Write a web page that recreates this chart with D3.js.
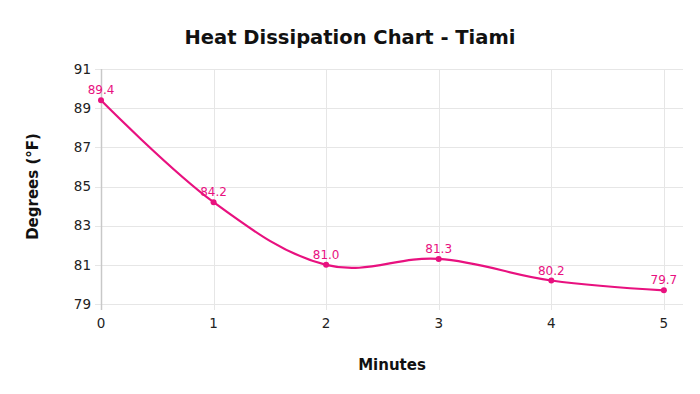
<!DOCTYPE html>
<html>
<head>
<meta charset="utf-8">
<script src="https://cdn.jsdelivr.net/npm/d3@7"></script>
<style>
  body { margin: 0; background: #fff; }
  text { font-family: "DejaVu Sans", Verdana, sans-serif; }
</style>
</head>
<body>
<svg id="chart" width="700" height="394"></svg>
<script>
var minutes = [0, 1, 2, 3, 4, 5];
var degrees = [89.4, 84.2, 81.0, 81.3, 80.2, 79.7];
var yTicks = [79, 81, 83, 85, 87, 89, 91];

var svg = d3.select("#chart");
var plotLeft = 101, plotRight = 683, plotTop = 69, plotBottom = 304;
var pink = "#e8117f";

var x = d3.scaleLinear().domain([0, 5.17]).range([plotLeft, plotRight]);
var y = d3.scaleLinear().domain([79, 91]).range([plotBottom, plotTop]);

// grid
svg.selectAll(".hgrid").data(yTicks).enter().append("line")
    .attr("x1", plotLeft - 6).attr("x2", plotRight)
    .attr("y1", function (d) { return Math.round(y(d)) + 0.5; })
    .attr("y2", function (d) { return Math.round(y(d)) + 0.5; })
    .attr("stroke", "#e6e6e6").attr("stroke-width", 1);

svg.selectAll(".vgrid").data(minutes.slice(1)).enter().append("line")
    .attr("x1", function (d) { return Math.round(x(d)) + 0.5; })
    .attr("x2", function (d) { return Math.round(x(d)) + 0.5; })
    .attr("y1", plotTop).attr("y2", plotBottom + 6)
    .attr("stroke", "#e6e6e6").attr("stroke-width", 1);

// y axis line
svg.append("line")
    .attr("x1", plotLeft + 0.5).attr("x2", plotLeft + 0.5)
    .attr("y1", plotTop).attr("y2", plotBottom + 6)
    .attr("stroke", "#c8c8c8").attr("stroke-width", 1.5);

// tick labels
svg.selectAll(".ylab").data(yTicks).enter().append("text")
    .attr("x", plotLeft - 10).attr("y", function (d) { return y(d); })
    .attr("dy", "0.35em").attr("text-anchor", "end")
    .attr("font-size", 13.5).attr("fill", "#222")
    .text(function (d) { return d; });

svg.selectAll(".xlab").data(minutes).enter().append("text")
    .attr("x", function (d) { return x(d); }).attr("y", plotBottom + 24)
    .attr("text-anchor", "middle")
    .attr("font-size", 13.5).attr("fill", "#222")
    .text(function (d) { return d; });

// line
var line = d3.line()
    .x(function (d, i) { return x(minutes[i]); })
    .y(function (d) { return y(d); })
    .curve(d3.curveCardinal.tension(-0.1));

svg.append("path").datum(degrees)
    .attr("d", line).attr("fill", "none")
    .attr("stroke", pink).attr("stroke-width", 2.2);

svg.selectAll(".pt").data(degrees).enter().append("circle")
    .attr("cx", function (d, i) { return x(minutes[i]); })
    .attr("cy", function (d) { return y(d); })
    .attr("r", 3).attr("fill", pink);

svg.selectAll(".vlab").data(degrees).enter().append("text")
    .attr("x", function (d, i) { return x(minutes[i]); })
    .attr("y", function (d) { return y(d) - 6; })
    .attr("text-anchor", "middle")
    .attr("font-size", 12).attr("fill", pink)
    .text(function (d) { return d.toFixed(1); });

// titles
svg.append("text")
    .attr("x", 350).attr("y", 44).attr("text-anchor", "middle")
    .attr("font-size", 19.5).attr("font-weight", "bold").attr("fill", "#111")
    .text("Heat Dissipation Chart - Tiami");

svg.append("text")
    .attr("transform", "translate(38," + ((plotTop + plotBottom) / 2) + ") rotate(-90)")
    .attr("text-anchor", "middle")
    .attr("font-size", 15).attr("font-weight", "bold").attr("fill", "#111")
    .text("Degrees (°F)");

svg.append("text")
    .attr("x", (plotLeft + plotRight) / 2).attr("y", 370).attr("text-anchor", "middle")
    .attr("font-size", 15).attr("font-weight", "bold").attr("fill", "#111")
    .text("Minutes");
</script>
</body>
</html>
